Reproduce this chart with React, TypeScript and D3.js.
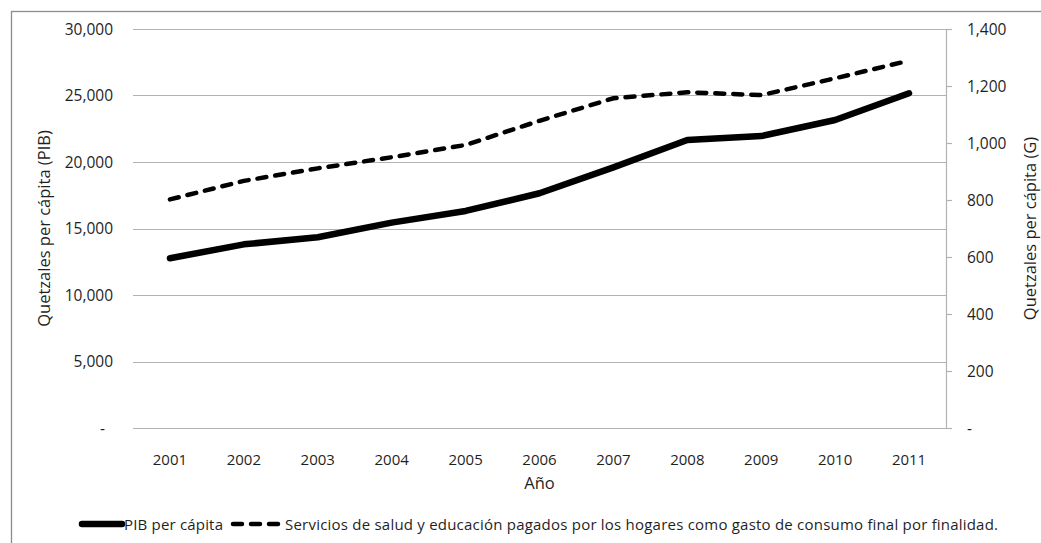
import { useEffect, useRef } from 'react';
import * as d3 from 'd3';

const years = ['2001', '2002', '2003', '2004', '2005', '2006', '2007', '2008', '2009', '2010', '2011'];
const pibValues = [12760, 13810, 14340, 15440, 16320, 17650, 19600, 21650, 21950, 23160, 25170];
const serviciosValues = [802, 867, 911, 950, 993, 1078, 1157, 1178, 1168, 1227, 1289];
const leftTicks = [0, 5000, 10000, 15000, 20000, 25000, 30000];
const rightTicks = [0, 200, 400, 600, 800, 1000, 1200, 1400];

const WIDTH = 1041;
const HEIGHT = 543;
const FONT = '"Open Sans", "Noto Sans", sans-serif';
const TEXT = '#1f1f1f';

export default function App() {
  const svgRef = useRef<SVGSVGElement | null>(null);

  useEffect(() => {
    if (!svgRef.current) return;
    const svg = d3.select(svgRef.current);
    svg.selectAll('*').remove();

    const margin = { top: 29, right: 95, bottom: 115, left: 133 };
    const plotRight = WIDTH - margin.right;
    const plotBottom = HEIGHT - margin.bottom;

    const x = d3.scaleBand<string>().domain(years).range([margin.left, plotRight]);
    const yLeft = d3.scaleLinear().domain([0, 30000]).range([plotBottom, margin.top]);
    const yRight = d3.scaleLinear().domain([0, 1400]).range([plotBottom, margin.top]);
    const cx = (d: string) => (x(d) ?? 0) + x.bandwidth() / 2;
    const fmt = d3.format(',');

    svg.append('rect').attr('width', WIDTH).attr('height', HEIGHT).attr('fill', '#fff');
    svg
      .append('rect')
      .attr('x', 11.5)
      .attr('y', 11.5)
      .attr('width', WIDTH)
      .attr('height', HEIGHT)
      .attr('fill', 'none')
      .attr('stroke', '#8c8c8c')
      .attr('stroke-width', 1.3);

    // gridlines (left axis)
    svg
      .append('g')
      .selectAll('line')
      .data(leftTicks)
      .enter()
      .append('line')
      .attr('x1', margin.left)
      .attr('x2', plotRight)
      .attr('y1', (d) => Math.round(yLeft(d)) + 0.5)
      .attr('y2', (d) => Math.round(yLeft(d)) + 0.5)
      .attr('stroke', '#b3b3b3')
      .attr('stroke-width', 1.2);

    svg
      .append('g')
      .selectAll('text')
      .data(leftTicks)
      .enter()
      .append('text')
      .attr('x', (d) => (d === 0 ? 105 : 113))
      .attr('y', (d) => yLeft(d) + 5.5)
      .attr('text-anchor', 'end')
      .attr('font-family', FONT)
      .attr('font-size', 15.5)
      .attr('fill', TEXT)
      .text((d) => (d === 0 ? '-' : fmt(d)));

    // right axis
    svg
      .append('line')
      .attr('x1', plotRight + 0.5)
      .attr('x2', plotRight + 0.5)
      .attr('y1', margin.top)
      .attr('y2', plotBottom)
      .attr('stroke', '#b3b3b3')
      .attr('stroke-width', 1.2);
    svg
      .append('g')
      .selectAll('line')
      .data(rightTicks)
      .enter()
      .append('line')
      .attr('x1', plotRight)
      .attr('x2', plotRight + 6)
      .attr('y1', (d) => Math.round(yRight(d)) + 0.5)
      .attr('y2', (d) => Math.round(yRight(d)) + 0.5)
      .attr('stroke', '#b3b3b3')
      .attr('stroke-width', 1.2);
    svg
      .append('g')
      .selectAll('text')
      .data(rightTicks)
      .enter()
      .append('text')
      .attr('x', plotRight + 21)
      .attr('y', (d) => yRight(d) + 5.5)
      .attr('text-anchor', 'start')
      .attr('font-family', FONT)
      .attr('font-size', 15.5)
      .attr('fill', TEXT)
      .text((d) => (d === 0 ? '-' : fmt(d)));

    // x labels
    svg
      .append('g')
      .selectAll('text')
      .data(years)
      .enter()
      .append('text')
      .attr('x', (d) => cx(d))
      .attr('y', 465)
      .attr('text-anchor', 'middle')
      .attr('font-family', FONT)
      .attr('font-size', 15)
      .attr('fill', TEXT)
      .text((d) => d);

    svg
      .append('text')
      .attr('x', (margin.left + plotRight) / 2)
      .attr('y', 489)
      .attr('text-anchor', 'middle')
      .attr('font-family', FONT)
      .attr('font-size', 16.5)
      .attr('fill', TEXT)
      .text('Año');

    const midY = (margin.top + plotBottom) / 2;
    svg
      .append('text')
      .attr('transform', `translate(50, ${midY}) rotate(-90)`)
      .attr('text-anchor', 'middle')
      .attr('font-family', FONT)
      .attr('font-size', 16.5)
      .attr('fill', TEXT)
      .text('Quetzales per cápita (PIB)');
    svg
      .append('text')
      .attr('transform', `translate(1036, ${midY}) rotate(-90)`)
      .attr('text-anchor', 'middle')
      .attr('font-family', FONT)
      .attr('font-size', 16.5)
      .attr('fill', TEXT)
      .text('Quetzales per cápita (G)');

    // series
    const pibLine = d3
      .line<number>()
      .x((_, i) => cx(years[i]))
      .y((d) => yLeft(d));
    const servLine = d3
      .line<number>()
      .x((_, i) => cx(years[i]))
      .y((d) => yRight(d));

    svg
      .append('path')
      .attr('d', servLine(serviciosValues))
      .attr('fill', 'none')
      .attr('stroke', '#000')
      .attr('stroke-width', 4.5)
      .attr('stroke-linecap', 'round')
      .attr('stroke-dasharray', '9 9');
    svg
      .append('path')
      .attr('d', pibLine(pibValues))
      .attr('fill', 'none')
      .attr('stroke', '#000')
      .attr('stroke-width', 6.5)
      .attr('stroke-linecap', 'round')
      .attr('stroke-linejoin', 'round');

    // legend
    const legY = 524;
    svg
      .append('line')
      .attr('x1', 82)
      .attr('x2', 122)
      .attr('y1', legY)
      .attr('y2', legY)
      .attr('stroke', '#000')
      .attr('stroke-width', 6.5)
      .attr('stroke-linecap', 'round');
    svg
      .append('text')
      .attr('x', 124)
      .attr('y', legY + 5.5)
      .attr('font-family', FONT)
      .attr('font-size', 15)
      .attr('fill', TEXT)
      .attr('textLength', 99)
      .attr('lengthAdjust', 'spacing')
      .text('PIB per cápita');
    svg
      .append('line')
      .attr('x1', 233)
      .attr('x2', 283)
      .attr('y1', legY)
      .attr('y2', legY)
      .attr('stroke', '#000')
      .attr('stroke-width', 4.5)
      .attr('stroke-linecap', 'round')
      .attr('stroke-dasharray', '9 9');
    svg
      .append('text')
      .attr('x', 285)
      .attr('y', legY + 5.5)
      .attr('font-family', FONT)
      .attr('font-size', 15)
      .attr('fill', TEXT)
      .attr('textLength', 713)
      .attr('lengthAdjust', 'spacing')
      .text('Servicios de salud y educación pagados por los hogares como gasto de consumo final por finalidad.');
  }, []);

  return (
    <svg
      ref={svgRef}
      width={WIDTH}
      height={HEIGHT}
      style={{ position: 'fixed', top: 0, left: 0, display: 'block' }}
    />
  );
}
